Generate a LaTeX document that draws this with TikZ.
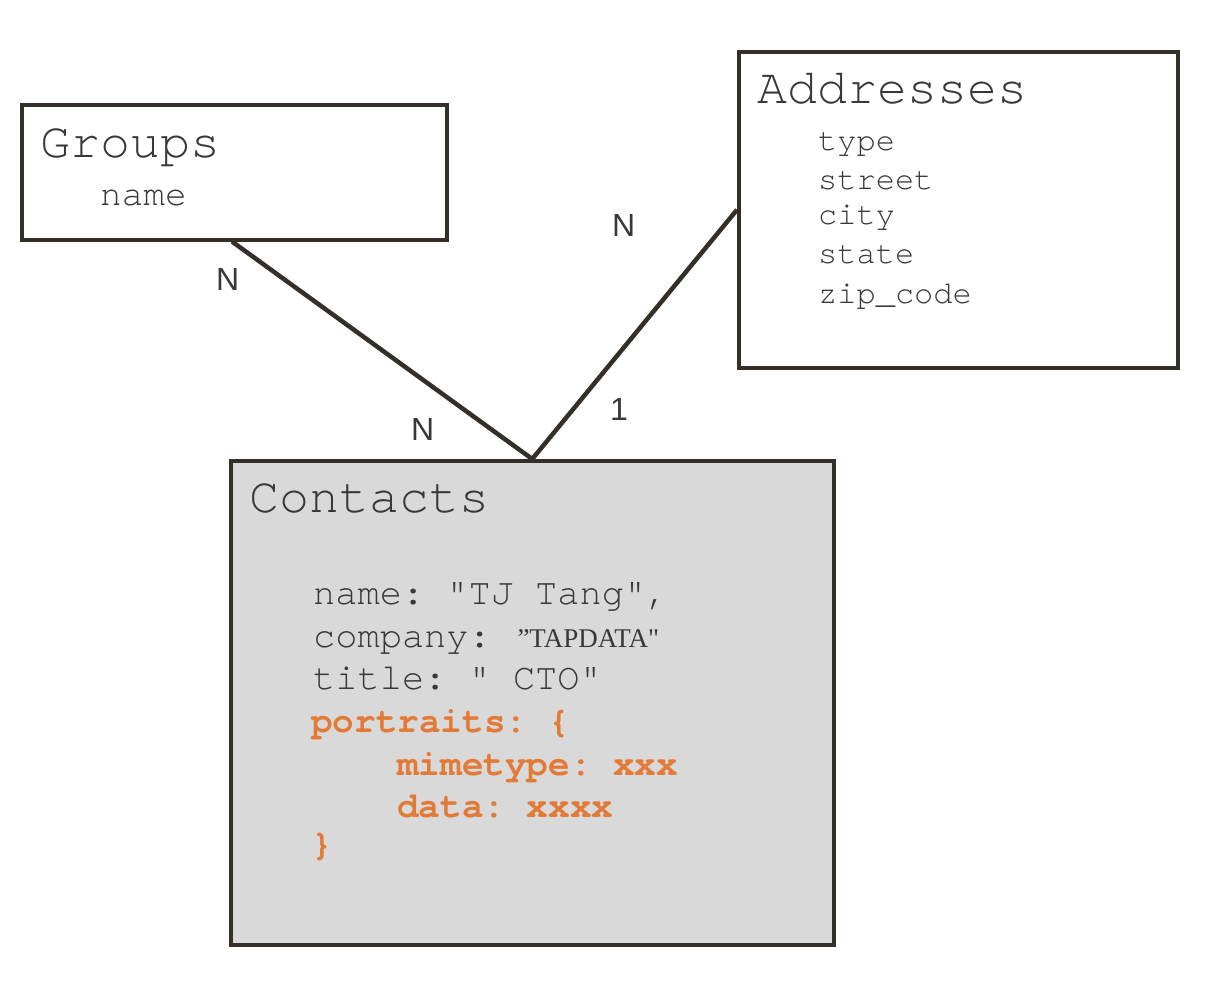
\documentclass[tikz,border=0pt]{standalone}
\usepackage{fontspec}
\setmainfont{Liberation Serif}
\setmonofont{TeX Gyre Cursor}
\setsansfont{Liberation Sans}
\newfontfamily\quoteserif{Liberation Serif}
\usetikzlibrary{calc}
\definecolor{ink}{RGB}{52,47,41}
\definecolor{txt}{RGB}{58,56,54}
\definecolor{shade}{RGB}{217,217,217}
\definecolor{accent}{RGB}{226,122,56}
\tikzset{
  entity/.style={draw=ink, line width=3.5pt, anchor=north west, inner sep=0pt},
  link/.style={draw=ink, line width=4.5pt},
  head/.style={anchor=base west, inner sep=0pt, text=txt, font=\ttfamily\fontsize{50}{60}\selectfont},
  field/.style={anchor=base west, inner sep=0pt, text=txt, font=\ttfamily\fontsize{32}{38}\selectfont},
  cfield/.style={anchor=base west, inner sep=0pt, text=txt, font=\ttfamily\fontsize{37}{43}\selectfont},
  hot/.style={anchor=base west, inner sep=0pt, text=accent, font=\ttfamily\bfseries\fontsize{36}{43}\selectfont},
  card/.style={anchor=base west, inner sep=0pt, text=txt, font=\sffamily\fontsize{32}{38}\selectfont}
}
\begin{document}
\begin{tikzpicture}[x=1pt, y=-1pt]
\useasboundingbox (0,0) rectangle (1216,986);

% entity boxes
\node[entity, minimum width=425pt, minimum height=135pt] (groups) at (20,103) {};
\node[entity, minimum width=439pt, minimum height=316pt] (addresses) at (737,50) {};
\node[entity, fill=shade, minimum width=603pt, minimum height=484pt] (contacts) at (229,459) {};

% relationships
\draw[link] ([xshift=212pt]groups.south west) -- (contacts.north);
\draw[link] (addresses.west) -- (contacts.north);

% Groups
\node[head] (gtitle) at (40,157) {Groups};
\node[field, font=\ttfamily\fontsize{36}{40}\selectfont] (gname) at (100,205) {name};

% Addresses
\node[head] (atitle) at (757,103) {Addresses};
\node[field] (atype) at (818,150) {type};
\node[field] (astreet) at (818,189) {street};
\node[field] (acity) at (818,224) {city};
\node[field] (astate) at (818,263) {state};
\node[field] (azip) at (818,303) {zip\_code};

% Contacts
\node[head] (ctitle) at (249,512) {Contacts};
\node[cfield] (cname) at (313,604) {name: "TJ Tang",};
\node[cfield] (ccomp) at (313,647) {company: \quoteserif\fontsize{27}{30}\selectfont\,”TAPDATA"};
\node[cfield] (ctitle2) at (313,689) {title: " CTO"};
\node[hot] (cport) at (311,732) {portraits: \{};
\node[hot] (cmime) at (397,775) {mimetype: xxx};
\node[hot] (cdata) at (397,817) {data: xxxx};
\node[hot] (cclose) at (311,855) {\}};

% cardinalities
\node[card] (n1) at (216,290) {N};
\node[card] (n2) at (612,236) {N};
\node[card] (n3) at (411,440) {N};
\node[card] (one) at (610,420) {1};
\end{tikzpicture}
\end{document}
